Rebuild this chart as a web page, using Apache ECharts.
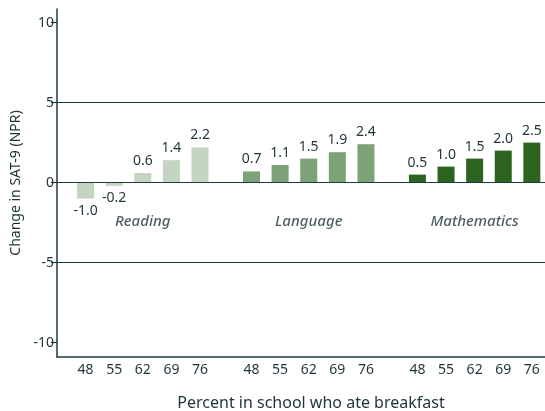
<!DOCTYPE html>
<html>
<head>
<meta charset="utf-8">
<script src="https://cdn.jsdelivr.net/npm/echarts@6/dist/echarts.min.js"></script>
<style>
  html, body { margin: 0; padding: 0; background: #fff; }
  #chart { width: 545px; height: 411px; }
</style>
</head>
<body>
<div id="chart"></div>
<script>
// data
const groups = ["Reading", "Language", "Mathematics"];
const breakfastPct = ["48", "55", "62", "69", "76"];
const readingVals = [-1.0, -0.2, 0.6, 1.4, 2.2];
const languageVals = [0.7, 1.1, 1.5, 1.9, 2.4];
const mathVals = [0.5, 1.0, 1.5, 2.0, 2.5];
const yTicks = [-10, -5, 0, 5, 10];
const gridLines = [-5, 0, 5];

const groupColors = ["#c3d4c0", "#7ea277", "#2d6420"];
const textColor = "#1f343a";
const axisColor = "#1f3a40";
const groupGap = 1.8; // extra slots between groups
const groupStep = breakfastPct.length - 1 + groupGap;
const fontFamily = "Noto Sans";

const xPos = (g, i) => g * groupStep + i;

// label lookup for the x positions
const xLabelMap = {};
const xLabelValues = [];
groups.forEach((_, g) => {
  breakfastPct.forEach((p, i) => {
    const v = xPos(g, i);
    xLabelValues.push(v);
    xLabelMap[v.toFixed(2)] = p;
  });
});

function barSeries(name, vals, g) {
  return {
    name: name,
    type: "bar",
    barWidth: 17,
    barGap: "-100%",
    itemStyle: { color: groupColors[g] },
    label: {
      show: true,
      color: textColor,
      fontSize: 14,
      fontFamily: fontFamily,
      formatter: (p) => p.value[1].toFixed(1)
    },
    data: vals.map((v, i) => ({
      value: [xPos(g, i), v],
      label: { position: v < 0 ? "bottom" : "top" }
    }))
  };
}

const chart = echarts.init(document.getElementById("chart"));

chart.setOption({
  animation: false,
  grid: { left: 57, right: 0, top: 9, bottom: 54 },
  xAxis: {
    type: "value",
    min: -1,
    max: 16.06,
    axisLine: { show: true, onZero: false, lineStyle: { color: axisColor, width: 1.5 } },
    axisTick: { show: false },
    splitLine: { show: false },
    axisLabel: {
      customValues: xLabelValues,
      formatter: (v) => xLabelMap[v.toFixed(2)] || "",
      color: textColor,
      fontSize: 14,
      fontFamily: fontFamily,
      margin: 6
    }
  },
  yAxis: {
    type: "value",
    min: -10.9,
    max: 10.85,
    name: "Change in SAT-9 (NPR)",
    nameLocation: "middle",
    nameGap: 26,
    nameTextStyle: { color: textColor, fontSize: 14, fontFamily: fontFamily },
    axisLine: { show: true, onZero: false, lineStyle: { color: axisColor, width: 1.5 } },
    axisTick: { show: true, customValues: yTicks, length: 6, lineStyle: { color: axisColor, width: 1.2 } },
    splitLine: { show: false },
    axisLabel: {
      customValues: yTicks,
      color: textColor,
      fontSize: 14,
      fontFamily: fontFamily,
      margin: 3
    }
  },
  graphic: [{
    type: "text",
    style: {
      text: "Percent in school who ate breakfast",
      x: 311,
      y: 403,
      textAlign: "center",
      textVerticalAlign: "middle",
      fill: textColor,
      fontSize: 16,
      fontFamily: fontFamily
    }
  }],
  series: [
    {
      type: "line",
      data: [],
      silent: true,
      markLine: {
        silent: true,
        symbol: "none",
        label: { show: false },
        lineStyle: { color: axisColor, width: 1.2, type: "solid" },
        data: gridLines.map((v) => ({ yAxis: v }))
      }
    },
    barSeries(groups[0], readingVals, 0),
    barSeries(groups[1], languageVals, 1),
    barSeries(groups[2], mathVals, 2),
    {
      type: "scatter",
      symbolSize: 0,
      silent: true,
      label: {
        show: true,
        position: "inside",
        formatter: (p) => p.value[2],
        color: textColor,
        fontSize: 15,
        fontStyle: "italic",
        fontWeight: 500,
        fontFamily: fontFamily
      },
      data: groups.map((name, g) => [xPos(g, (breakfastPct.length - 1) / 2), -2.44, name])
    }
  ]
});
</script>
</body>
</html>
